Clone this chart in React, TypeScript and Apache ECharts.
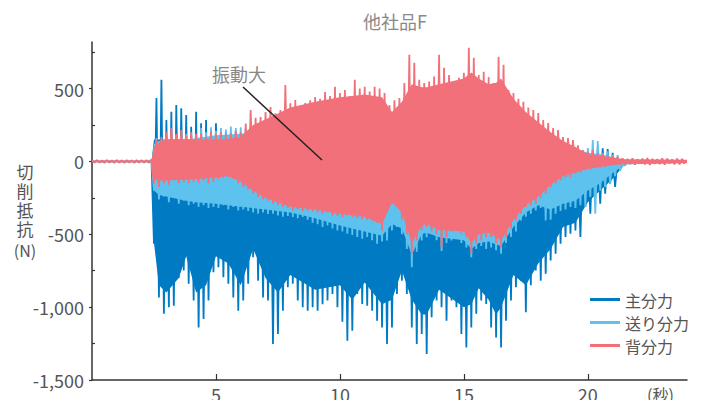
import React, { useEffect, useRef } from "react";
import * as echarts from "echarts";

// Oscillation peaks: highs sampled at i*0.2 s, lows at i*0.2+0.1 s
const STEP = 0.2;
const HALF = 0.1;

const seriesNames = ["主分力", "送り分力", "背分力"];
const seriesColors = ["#007bc3", "#5ec2ee", "#f2707a"];

const yTicks = [-1500, -1000, -500, 0, 500];
const yMinorTicks = [-1250, -750, -250, 250, 750];
const xTicks = [5, 10, 15, 20];

// 主分力 (main force) peaks
const mainHigh = [
  4, 5, 3, 5, 4, 5, 4, 3, 5, 4,
  5, 4, 10, 436, 560, 284, 342, 387, 366, 319,
  238, 342, 263, 284, 216, 263, 194, 204, 170, 204,
  180, 150, 160, 150, 160, 150, 160, 150, 160, 150,
  160, 150, 160, 150, 160, 150, 160, 150, 160, 150,
  160, 170, 160, 170, 160, 170, 160, 170, 160, 170,
  160, 170, 180, 170, 180, 170, 180, 170, 180, 170,
  180, 170, 180, 170, 180, 170, 180, 170, 180, 170,
  170, 160, 170, 160, 150, 160, 150, 140, 150, 140,
  150, 140, 130, 120, 110, 100, 90, 80, 70, 60,
  70, 78, 90, 90, 85, 60, 20, 10, 8, 12,
  10, 14, 8, 12, 10, 9, 12, 10, 8, 11,
];
const mainLow = [
  -4, -5, -3, -5, -4, -5, -4, -3, -5, -4,
  -5, -4, -565, -933, -1045, -1000, -990, -800, -749, -840,
  -955, -1140, -1081, -955, -760, -726, -795, -840, -933, -1024,
  -955, -840, -657, -818, -933, -955, -1253, -1185, -1024, -864,
  -840, -955, -1000, -1024, -1000, -1024, -980, -955, -910, -1000,
  -1100, -1231, -1162, -910, -978, -990, -1024, -1093, -1140, -1253,
  -1140, -910, -818, -910, -1140, -1253, -1185, -1322, -1070, -955,
  -1000, -1093, -955, -1000, -1185, -1277, -1140, -1045, -955, -978,
  -1140, -1208, -1277, -1093, -955, -864, -818, -1035, -850, -749,
  -818, -771, -680, -634, -565, -519, -496, -473, -519, -313,
  -358, -244, -290, -221, -152, -175, -60, -25, -10, -12,
  -8, -10, -12, -9, -11, -10, -8, -12, -9, -10,
];

// 送り分力 (feed force) peaks
const feedHigh = [
  5, 6, 4, 6, 5, 6, 5, 4, 6, 5,
  6, 5, 8, 160, 150, 170, 160, 180, 170, 190,
  200, 180, 230, 200, 235, 210, 230, 220, 240, 230,
  235, 220, 240, 230, 240, 250, 240, 260, 250, 260,
  250, 270, 260, 270, 260, 280, 270, 280, 270, 290,
  280, 290, 280, 290, 300, 290, 300, 290, 300, 280,
  270, 280, 290, 300, 310, 300, 290, 300, 310, 300,
  310, 300, 310, 300, 310, 300, 320, 310, 300, 310,
  300, 310, 300, 290, 280, 270, 260, 250, 240, 230,
  220, 220, 210, 190, 180, 150, 140, 120, 100, 78,
  92, 147, 140, 60, 70, 45, 43, 20, 12, 10,
  12, 10, 14, 9, 12, 10, 11, 9, 12, 10,
];
const feedLow = [
  -5, -6, -5, -4, -6, -5, -6, -5, -4, -6,
  -5, -6, -200, -260, -240, -280, -250, -290, -270, -300,
  -290, -310, -300, -320, -313, -320, -300, -330, -313, -336,
  -330, -340, -350, -358, -350, -360, -358, -370, -380, -375,
  -381, -390, -381, -400, -420, -430, -450, -440, -460, -473,
  -480, -496, -505, -519, -530, -519, -540, -565, -550, -542,
  -473, -450, -500, -600, -726, -620, -542, -520, -496, -540,
  -615, -560, -542, -530, -560, -590, -657, -600, -580, -600,
  -590, -610, -634, -560, -519, -480, -405, -380, -358, -336,
  -320, -405, -400, -358, -340, -330, -313, -320, -300, -313,
  -244, -358, -200, -175, -152, -100, -60, -30, -12, -10,
  -12, -9, -11, -10, -12, -9, -10, -12, -11, -9,
];

// 背分力 (back force) peaks
const backHigh = [
  8, 9, 7, 10, 8, 9, 8, 10, 7, 9,
  8, 10, 12, 150, 170, 200, 229, 190, 216, 180,
  200, 190, 194, 170, 204, 190, 200, 185, 194, 210,
  200, 260, 353, 300, 305, 340, 374, 330, 353, 525,
  400, 422, 380, 401, 420, 443, 430, 477, 450, 512,
  470, 491, 450, 560, 500, 512, 480, 512, 500, 470,
  387, 420, 436, 539, 732, 677, 560, 539, 548, 583,
  732, 643, 594, 525, 574, 608, 780, 711, 594, 615,
  580, 539, 719, 663, 491, 470, 430, 410, 370, 353,
  332, 284, 263, 229, 216, 168, 160, 147, 110, 78,
  64, 78, 57, 57, 43, 35, 30, 22, 18, 22,
  15, 20, 24, 18, 16, 22, 19, 15, 20, 17,
];
const backLow = [
  -8, -7, -9, -8, -10, -7, -9, -8, -9, -7,
  -8, -9, -150, -175, -150, -160, -129, -150, -140, -150,
  -140, -150, -130, -150, -140, -120, -110, -106, -120, -150,
  -175, -190, -220, -244, -260, -270, -290, -300, -310, -320,
  -336, -330, -340, -336, -345, -350, -358, -350, -370, -375,
  -381, -370, -381, -390, -395, -400, -405, -420, -473, -350,
  -290, -300, -400, -500, -634, -542, -470, -450, -480, -500,
  -590, -519, -480, -450, -500, -519, -634, -560, -542, -520,
  -519, -560, -590, -519, -460, -405, -360, -313, -300, -290,
  -250, -221, -175, -150, -129, -110, -106, -83, -75, -60,
  -55, -46, -40, -37, -30, -25, -22, -20, -18, -22,
  -15, -20, -24, -16, -18, -22, -15, -19, -20, -16,
];

// Solid core (dense-oscillation body) of each signal, read at these times
const bodyTimes = [
  0, 2.4, 2.5, 2.7, 3, 3.5, 3.8, 4.2, 4.6, 5,
  5.5, 6, 6.5, 7, 7.5, 8, 9, 10, 10.5, 11,
  11.7, 12.1, 12.5, 12.9, 13.3, 13.5, 14, 15, 15.3, 15.6,
  16, 16.3, 16.5, 17, 17.5, 18, 18.5, 19, 19.5, 20,
  20.5, 21, 21.5, 24,
];
const mainBodyTop = [
  4, 4, 150, 150, 150, 150, 150, 150, 150, 150,
  150, 150, 150, 150, 150, 150, 150, 150, 150, 150,
  150, 150, 150, 150, 150, 150, 150, 150, 150, 150,
  150, 150, 150, 150, 150, 140, 120, 80, 60, 40,
  40, 20, 8, 8,
];
const mainBodyBottom = [
  -4, -4, -560, -850, -900, -800, -650, -900, -850, -650,
  -700, -850, -600, -800, -900, -780, -880, -850, -950, -830,
  -980, -950, -750, -950, -1050, -1050, -880, -1000, -980, -870,
  -950, -1050, -1000, -780, -850, -700, -600, -450, -420, -280,
  -200, -120, -15, -8,
];
const feedBodyTop = [
  5, 5, 120, 140, 150, 150, 150, 160, 170, 180,
  185, 190, 200, 200, 200, 200, 200, 200, 200, 200,
  200, 200, 200, 200, 200, 200, 200, 200, 200, 200,
  200, 200, 200, 200, 200, 180, 150, 120, 90, 60,
  50, 30, 10, 8,
];
const feedBodyBottom = [
  -5, -5, -200, -230, -240, -260, -270, -280, -285, -290,
  -300, -310, -320, -330, -340, -350, -390, -440, -460, -480,
  -510, -430, -460, -640, -500, -490, -520, -540, -600, -560,
  -550, -570, -580, -450, -350, -300, -330, -290, -270, -200,
  -150, -80, -20, -8,
];
const backBodyTop = [
  6, 6, 100, 130, 150, 150, 150, 150, 150, 150,
  155, 170, 250, 290, 330, 370, 410, 440, 450, 460,
  440, 340, 410, 530, 510, 510, 530, 570, 610, 570,
  530, 540, 570, 430, 340, 270, 200, 140, 100, 50,
  40, 25, 15, 12,
];
const backBodyBottom = [
  -6, -6, -120, -130, -130, -125, -125, -120, -115, -110,
  -100, -140, -200, -250, -280, -310, -330, -360, -370, -380,
  -430, -280, -350, -560, -440, -430, -470, -480, -560, -500,
  -490, -520, -540, -400, -300, -240, -160, -100, -75, -50,
  -38, -25, -15, -12,
];

const peakHighs = [mainHigh, feedHigh, backHigh];
const peakLows = [mainLow, feedLow, backLow];
const bodyTops = [mainBodyTop, feedBodyTop, backBodyTop];
const bodyBottoms = [mainBodyBottom, feedBodyBottom, backBodyBottom];

const FONT = "'Noto Sans CJK JP', 'Noto Sans', sans-serif";

function makeRenderItem(k: number) {
  const high = peakHighs[k];
  const low = peakLows[k];
  const top = bodyTops[k];
  const bottom = bodyBottoms[k];
  const color = seriesColors[k];
  return (_params: any, api: any) => {
    const body: number[][] = [];
    for (let i = 0; i < bodyTimes.length; i++) body.push(api.coord([bodyTimes[i], top[i]]));
    for (let i = bodyTimes.length - 1; i >= 0; i--) body.push(api.coord([bodyTimes[i], bottom[i]]));
    const zig: number[][] = [];
    for (let i = 0; i < high.length; i++) {
      zig.push(api.coord([i * STEP, high[i]]));
      zig.push(api.coord([i * STEP + HALF, low[i]]));
    }
    return {
      type: "group",
      silent: true,
      children: [
        { type: "polygon", shape: { points: body }, style: { fill: color } },
        {
          type: "polyline",
          shape: { points: zig },
          style: { stroke: color, fill: null, lineWidth: 1.8, lineJoin: "bevel" },
        },
      ],
    };
  };
}

export default function App() {
  const ref = useRef<HTMLDivElement>(null);

  useEffect(() => {
    if (!ref.current) return;
    const chart = echarts.init(ref.current, undefined, { renderer: "svg" });
    const option: any = {
      animation: false,
      backgroundColor: "#ffffff",
      textStyle: { fontFamily: FONT },
      title: {
        text: "他社品F",
        left: 363,
        top: 12,
        padding: 0,
        textStyle: { fontFamily: FONT, fontSize: 18, fontWeight: "normal", color: "#8a8a8a" },
      },
      legend: {
        orient: "vertical",
        left: 590,
        top: 291,
        padding: 0,
        itemGap: 6,
        itemWidth: 30,
        itemHeight: 3,
        icon: "rect",
        data: seriesNames,
        selectedMode: false,
        textStyle: { fontFamily: FONT, fontSize: 16, lineHeight: 17, color: "#555" },
      },
      grid: {
        left: 92,
        top: 42,
        width: 595,
        height: 338,
        containLabel: false,
        outerBoundsMode: "none",
      },
      xAxis: {
        type: "value",
        min: 0,
        max: 24,
        interval: 5,
        axisLine: { show: true, onZero: false, lineStyle: { color: "#333", width: 1.5 } },
        axisTick: { show: true, inside: true, length: 6, customValues: xTicks, lineStyle: { color: "#333", width: 1.2 } },
        axisLabel: { customValues: xTicks, margin: 5, fontFamily: FONT, fontSize: 18, color: "#555" },
        splitLine: { show: false },
      },
      yAxis: [
        {
          type: "value",
          position: "left",
          min: -1500,
          max: 820,
          interval: 500,
          axisLine: { show: true, lineStyle: { color: "#333", width: 1.5 } },
          axisTick: { show: true, inside: false, length: 3, customValues: yTicks, lineStyle: { color: "#333", width: 1.2 } },
          axisLabel: {
            customValues: yTicks,
            margin: 8,
            fontFamily: FONT,
            fontSize: 18,
            color: "#555",
            formatter: (v: number) => v.toLocaleString("en-US"),
          },
          splitLine: { show: false },
        },
        {
          type: "value",
          position: "left",
          offset: 0,
          min: -1500,
          max: 820,
          interval: 500,
          axisLine: { show: false },
          axisTick: { show: true, inside: true, length: 3, customValues: yMinorTicks, lineStyle: { color: "#333", width: 1.2 } },
          axisLabel: { show: false },
          splitLine: { show: false },
        },
      ],
      series: seriesNames.map((name, k) => ({
        name,
        type: "custom",
        coordinateSystem: "cartesian2d",
        xAxisIndex: 0,
        yAxisIndex: 0,
        data: [[0, 0]],
        z: 2 + k,
        silent: true,
        color: seriesColors[k],
        itemStyle: { color: seriesColors[k] },
        renderItem: makeRenderItem(k),
      })),
      graphic: [
        {
          type: "text",
          x: 25,
          y: 162,
          style: {
            text: "切\n削\n抵\n抗",
            font: `17px ${FONT}`,
            lineHeight: 19,
            fill: "#555",
            textAlign: "center",
            textVerticalAlign: "top",
          },
        },
        {
          type: "text",
          x: 25,
          y: 249.5,
          style: {
            text: "(N)",
            font: `16px ${FONT}`,
            fill: "#555",
            textAlign: "center",
            textVerticalAlign: "middle",
          },
        },
        {
          type: "text",
          x: 647,
          y: 394,
          style: {
            text: "(秒)",
            font: `16px ${FONT}`,
            fill: "#555",
            textAlign: "left",
            textVerticalAlign: "middle",
          },
        },
        {
          type: "text",
          x: 212,
          y: 73.5,
          z: 20,
          style: {
            text: "振動大",
            font: `18px ${FONT}`,
            fill: "#888",
            textAlign: "left",
            textVerticalAlign: "middle",
          },
        },
        {
          type: "line",
          z: 20,
          shape: { x1: 243, y1: 87, x2: 322, y2: 160 },
          style: { stroke: "#222", lineWidth: 1.5 },
        },
      ],
    };
    chart.setOption(option);
    return () => chart.dispose();
  }, []);

  return (
    <div
      ref={ref}
      style={{ position: "fixed", left: 0, top: 0, width: 713, height: 400 }}
    />
  );
}
